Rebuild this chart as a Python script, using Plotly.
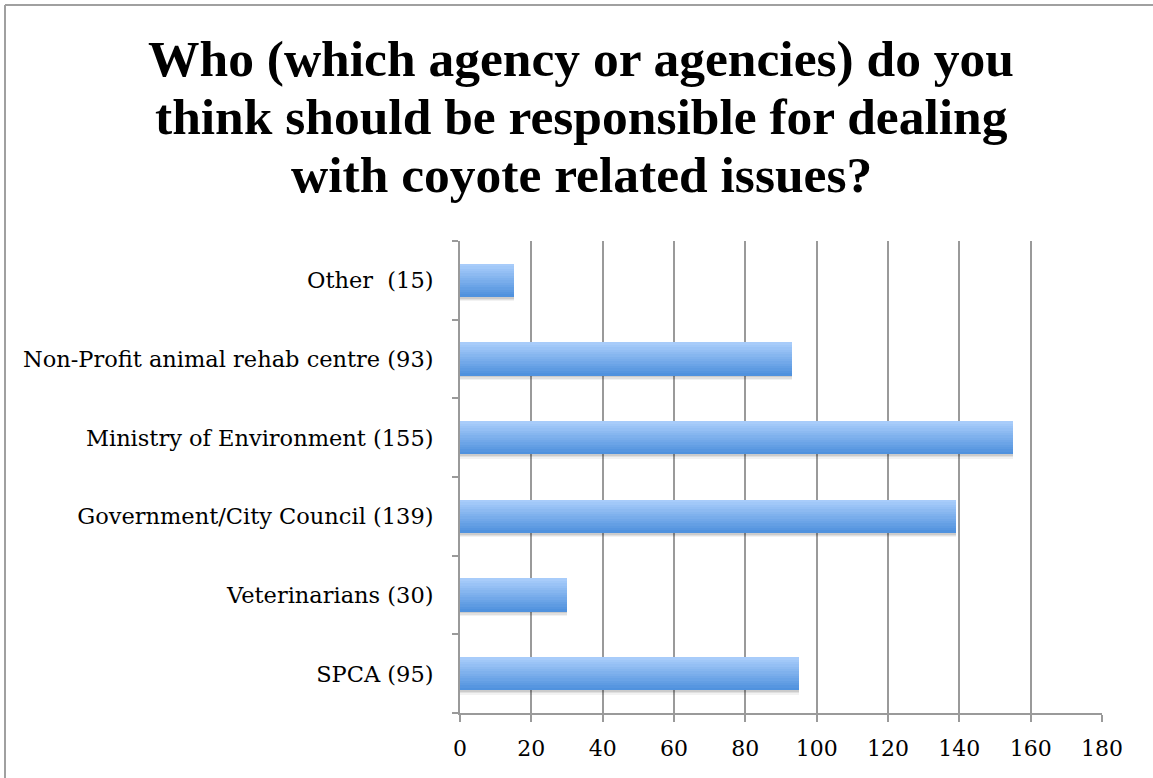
import plotly.graph_objects as go

# Survey responses, listed bottom to top as they appear on the axis
categories = [
    "SPCA (95)",
    "Veterinarians (30)",
    "Government/City Council (139)",
    "Ministry of Environment (155)",
    "Non-Profit animal rehab centre (93)",
    "Other  (15)",
]
counts = [95, 30, 139, 155, 93, 15]
x_ticks = [0, 20, 40, 60, 80, 100, 120, 140, 160, 180]

title_lines = [
    "Who (which agency or agencies) do you",
    "think should be responsible for dealing",
    "with coyote related issues?",
]

W, H = 1153, 778
plot_left, plot_right = 460, 1102
plot_top, plot_bottom = 241, 713

bar_w = 0.42
n_slices = 14
top_rgb = (168, 204, 250)
bot_rgb = (80, 146, 222)

fig = go.Figure()

# soft drop shadow beneath each bar
for dy, a in [(0.055, 0.05), (0.04, 0.07), (0.025, 0.09)]:
    fig.add_trace(go.Bar(
        y=categories, x=counts, orientation="h",
        width=bar_w, offset=-bar_w / 2 - dy,
        marker=dict(color=f"rgba(0,0,0,{a})", line=dict(width=0)),
        hoverinfo="skip", showlegend=False,
    ))

# vertical gradient built from thin horizontal slices, dark at bottom, light at top
slice_w = bar_w / n_slices
for k in range(n_slices):
    t = k / (n_slices - 1)
    r = round(bot_rgb[0] + (top_rgb[0] - bot_rgb[0]) * t)
    g = round(bot_rgb[1] + (top_rgb[1] - bot_rgb[1]) * t)
    b = round(bot_rgb[2] + (top_rgb[2] - bot_rgb[2]) * t)
    fig.add_trace(go.Bar(
        y=categories, x=counts, orientation="h",
        width=slice_w * 1.08, offset=-bar_w / 2 + k * slice_w,
        marker=dict(color=f"rgb({r},{g},{b})", line=dict(width=0)),
        hovertemplate="%{y}: %{x}<extra></extra>", showlegend=False,
    ))

grid_col = "#9a9a9a"
label_font = "'DejaVu Serif', serif"
title_font = "'Liberation Serif', 'Times New Roman', serif"

# title drawn line by line for exact spacing
title_baselines = [78, 136, 194]
annotations = [
    dict(text=f"<b>{line}</b>", xref="paper", yref="paper",
         x=581 / W, y=1 - (yb + 11) / H, xanchor="center", yanchor="bottom",
         showarrow=False,
         font=dict(family=title_font, size=51.5, color="black"))
    for line, yb in zip(title_lines, title_baselines)
]
annotations.append(
    dict(text="g", xref="paper", yref="paper",
         x=40 / W, y=1 + 14 / H, xanchor="center", yanchor="bottom",
         showarrow=False, font=dict(family=title_font, size=24, color="black"))
)

fig.update_layout(
    width=W, height=H, autosize=False,
    margin=dict(l=0, r=0, t=0, b=0, autoexpand=False),
    paper_bgcolor="white", plot_bgcolor="white",
    barmode="overlay", bargap=0,
    font=dict(family=label_font, color="black"),
    xaxis=dict(
        domain=[plot_left / W, plot_right / W],
        range=[0, 180], tickvals=x_ticks,
        showgrid=True, gridcolor=grid_col, gridwidth=2,
        showline=True, linecolor=grid_col, linewidth=2,
        ticks="outside", ticklen=7, tickcolor=grid_col, tickwidth=2,
        tickfont=dict(size=22, family=label_font),
        ticklabelstandoff=8,
        automargin=False, zeroline=False, fixedrange=True,
    ),
    yaxis=dict(
        domain=[1 - plot_bottom / H, 1 - plot_top / H],
        range=[-0.5, 5.5],
        categoryorder="array", categoryarray=categories,
        showgrid=False,
        showline=True, linecolor=grid_col, linewidth=2,
        ticks="outside", ticklen=6, tickcolor=grid_col, tickwidth=2,
        tickson="boundaries",
        tickfont=dict(size=22.5, family=label_font),
        ticklabelstandoff=20,
        automargin=False, zeroline=False, fixedrange=True,
    ),
    shapes=[
        dict(type="line", xref="paper", yref="paper",
             x0=5 / W, x1=1.0, y0=1 - 5 / H, y1=1 - 5 / H,
             line=dict(color="#a0a0a0", width=2)),
        dict(type="line", xref="paper", yref="paper",
             x0=5 / W, x1=5 / W, y0=0, y1=1 - 5 / H,
             line=dict(color="#a0a0a0", width=2)),
    ],
    annotations=annotations,
)

fig.write_html("out.html", config={"responsive": False})
